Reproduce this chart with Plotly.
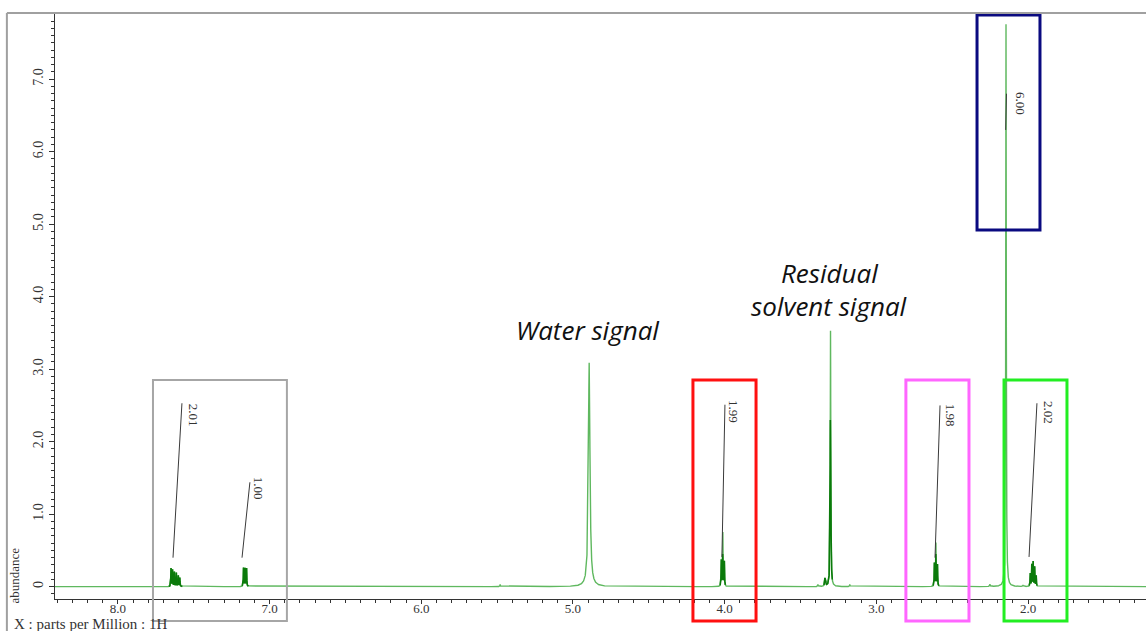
import numpy as np
import plotly.graph_objects as go

# ---------------- data ----------------
# resolved lines of the 1H spectrum: position (ppm), height (abundance), half width (ppm)
line_ppm = [7.650, 7.640, 7.628, 7.615, 7.602, 7.592,
            7.172, 7.162, 7.152,
            5.480,
            4.893,
            4.022, 4.012, 4.002,
            3.385, 3.339, 3.334, 3.302, 3.175,
            2.617, 2.607, 2.597,
            2.251, 2.145, 2.033,
            1.985, 1.975, 1.966, 1.956, 1.946]
line_height = [0.25, 0.23, 0.20, 0.19, 0.15, 0.12,
               0.26, 0.25, 0.25,
               0.03,
               3.09,
               0.36, 0.74, 0.34,
               0.03, 0.10, 0.07, 3.53, 0.03,
               0.32, 0.60, 0.30,
               0.03, 7.76, 0.02,
               0.18, 0.30, 0.34, 0.27, 0.15]
line_hwhm = [0.0015] * 9 + [0.002] + [0.006] + [0.0015] * 3 + \
            [0.002] * 5 + [0.0015] * 3 + [0.002] * 3 + [0.0015] * 5

# multiplet windows drawn darker (overlapping lines), and the level they reach
multiplet_lo = [7.575, 7.140, 3.995, 2.588, 1.940, 3.290]
multiplet_hi = [7.665, 7.180, 4.030, 2.625, 1.992, 3.345]
multiplet_top = [0.30, 0.30, 0.45, 0.45, 0.40, 2.30]

# integrals: start/end of integral curves and their values
integral_values = ["2.01", "1.00", "1.99", "6.00", "1.98", "2.02"]
integral_x0 = [7.637, 7.182, 4.018, 2.147, 2.613, 1.993]
integral_y0 = [0.40, 0.40, 0.41, 6.30, 0.40, 0.41]
integral_x1 = [7.578, 7.130, 3.998, 2.142, 2.580, 1.941]
integral_y1 = [2.53, 1.44, 2.51, 6.80, 2.50, 2.53]
integral_label_x = [7.505, 7.077, 3.945, 2.053, 2.514, 1.868]
integral_label_y = [2.37, 1.35, 2.41, 6.66, 2.37, 2.41]

# highlight boxes (ppm extents)
box_x0 = [7.769, 4.209, 2.805, 2.158, 2.336]
box_x1 = [6.886, 3.793, 2.389, 1.743, 1.921]
box_colors = ["#a6a6a6", "#ff1010", "#ff66ff", "#22ee22", "#0a0a80"]

x_ticks = [8.0, 7.0, 6.0, 5.0, 4.0, 3.0, 2.0]
x_ticktext = ["8.0", "7.0", "6.0", "5.0", "4.0", "3.0", "2.0"]
y_ticks = [0, 1, 2, 3, 4, 5, 6, 7]
y_ticktext = ["0", "1.0", "2.0", "3.0", "4.0", "5.0", "6.0", "7.0"]

# ---------------- spectrum (sum of Lorentzian lines) ----------------
ppm = np.linspace(1.2, 8.45, 24000)
spec = np.zeros_like(ppm)
for p, h, w in zip(line_ppm, line_height, line_hwhm):
    spec += h / (1.0 + ((ppm - p) / w) ** 2)

dark = np.full_like(spec, np.nan)
for lo, hi, top in zip(multiplet_lo, multiplet_hi, multiplet_top):
    m = (ppm >= lo) & (ppm <= hi)
    dark[m] = np.minimum(spec[m], top)

serif = "Liberation Serif"
fig = go.Figure()
fig.add_trace(go.Scatter(x=ppm, y=spec, mode="lines",
                         line=dict(color="#5fb85f", width=1.4),
                         hoverinfo="skip", showlegend=False))
fig.add_trace(go.Scatter(x=ppm, y=dark, mode="lines",
                         line=dict(color="#0b7a0b", width=1.6),
                         hoverinfo="skip", showlegend=False))

for x0, y0, x1, y1 in zip(integral_x0, integral_y0, integral_x1, integral_y1):
    fig.add_trace(go.Scatter(x=[x0, x1], y=[y0, y1], mode="lines",
                             line=dict(color="#3a3a3a", width=1),
                             hoverinfo="skip", showlegend=False))

annotations = []
for t, x, y in zip(integral_values, integral_label_x, integral_label_y):
    annotations.append(dict(x=x, y=y, xref="x", yref="y", text=t, showarrow=False,
                            textangle=90, font=dict(family=serif, size=13, color="#333")))

sans = "Open Sans"
annotations += [
    dict(x=4.901, y=3.54, xref="x", yref="y", text="<i>Water signal</i>", showarrow=False,
         font=dict(family=sans, size=26, color="#111")),
    dict(x=3.306, y=4.32, xref="x", yref="y", text="<i>Residual</i>", showarrow=False,
         font=dict(family=sans, size=26, color="#111")),
    dict(x=3.306, y=3.87, xref="x", yref="y", text="<i>solvent signal</i>", showarrow=False,
         font=dict(family=sans, size=26, color="#111")),
    dict(x=-0.0367, y=0.04, xref="paper", yref="paper", text="abundance", showarrow=False,
         textangle=-90, xanchor="center", yanchor="middle",
         font=dict(family=serif, size=13, color="#333")),
    dict(x=-0.0395, y=-0.0435, xref="paper", yref="paper", text="X : parts per Million : 1H",
         showarrow=False, xanchor="left", yanchor="middle",
         font=dict(family=serif, size=15, color="#333")),
]

shapes = []
for x0, x1, c in zip(box_x0[:4], box_x1[:4], box_colors[:4]):
    shapes.append(dict(type="rect", xref="x", yref="paper", x0=x0, x1=x1, y0=-0.0375, y1=0.3737,
                       line=dict(color=c, width=3 if c != "#a6a6a6" else 2)))
shapes.append(dict(type="rect", xref="x", yref="paper", x0=box_x0[4], x1=box_x1[4],
                   y0=0.6297, y1=0.9966, line=dict(color=box_colors[4], width=3)))
# outer window frame
shapes.append(dict(type="line", xref="paper", yref="paper", x0=-0.0441, x1=1.0, y0=1.0, y1=1.0,
                   line=dict(color="#a0a0a0", width=2)))
shapes.append(dict(type="line", xref="paper", yref="paper", x0=-0.0441, x1=-0.0441, y0=1.0, y1=-0.06,
                   line=dict(color="#a0a0a0", width=2)))

fig.update_layout(
    width=1146, height=631,
    margin=dict(l=55, r=0, t=13, b=32),
    plot_bgcolor="white", paper_bgcolor="white",
    annotations=annotations, shapes=shapes,
    xaxis=dict(range=[8.415, 1.222], showline=True, linecolor="#333", linewidth=1,
               ticks="outside", ticklen=4, tickcolor="#333",
               tickvals=x_ticks, ticktext=x_ticktext, ticklabelstandoff=-7,
               minor=dict(tick0=0, dtick=0.1, ticks="outside", ticklen=3, tickcolor="#333"),
               showgrid=False, zeroline=False,
               tickfont=dict(family=serif, size=13, color="#333")),
    yaxis=dict(range=[-0.17, 7.913], showline=True, linecolor="#333", linewidth=1,
               ticks="outside", ticklen=5, tickcolor="#333",
               tickvals=y_ticks, ticktext=y_ticktext, tickangle=-90,
               minor=dict(tick0=0, dtick=0.1, ticks="outside", ticklen=3, tickcolor="#333"),
               showgrid=False, zeroline=False,
               tickfont=dict(family=serif, size=14, color="#333")),
)

fig.write_html("out.html", config={"displayModeBar": False},
               post_script="document.body.style.margin='0';document.body.style.overflow='hidden';")
